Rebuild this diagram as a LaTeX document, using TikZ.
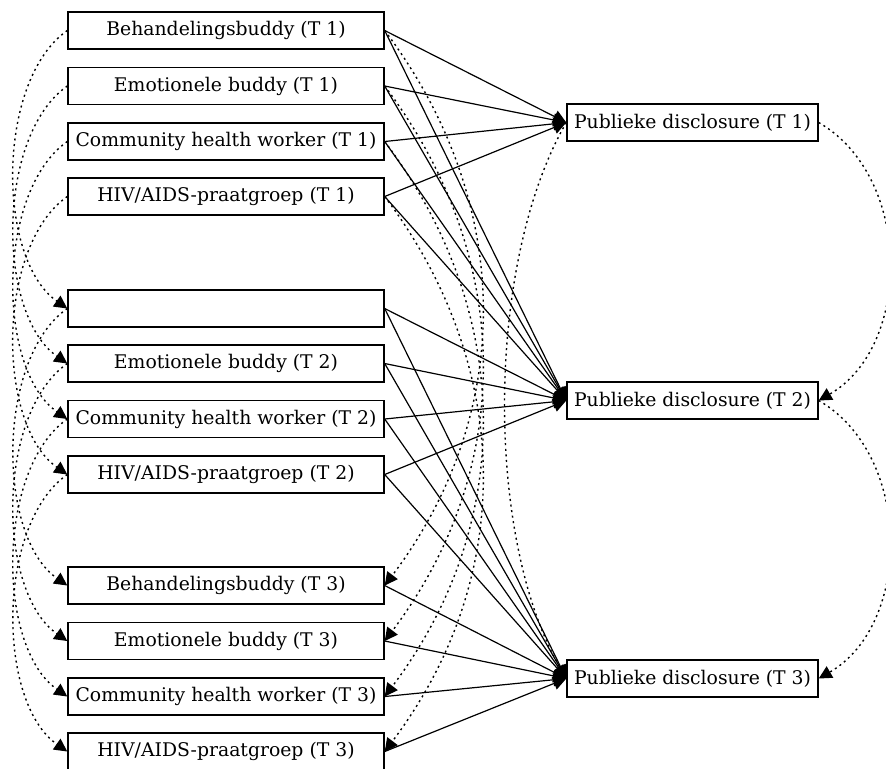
\documentclass[tikz,border=0pt]{standalone}
\usepackage{fontspec}
\setmainfont{DejaVu Serif}
\usetikzlibrary{arrows.meta}
\begin{document}
\begin{tikzpicture}[x=0.5pt,y=0.5pt,
  box/.style={draw, line width=0.7pt, minimum width=158pt, minimum height=18.5pt, inner sep=0pt,
    font=\fontsize{9.4}{11}\selectfont},
  pbox/.style={box, minimum width=125.5pt},
  tip/.style={-{Triangle[length=6.5pt,width=6.5pt]}},
  reg/.style={line width=0.6pt, tip},
  cov/.style={line width=0.7pt, dash pattern=on 1pt off 1.8pt, tip},
]
\useasboundingbox (0,0) rectangle (886,-768);
% left column
\node[box] (b1) at (226,-30.5) {Behandelingsbuddy (T 1)};
\node[box] (e1) at (226,-86) {Emotionele buddy (T 1)};
\node[box] (c1) at (226,-141.5) {Community health worker (T 1)};
\node[box] (h1) at (226,-196.5) {HIV/AIDS-praatgroep (T 1)};
\node[box] (b2) at (226,-308.5) {};
\node[box] (e2) at (226,-363.5) {Emotionele buddy (T 2)};
\node[box] (c2) at (226,-419) {Community health worker (T 2)};
\node[box] (h2) at (226,-474.5) {HIV/AIDS-praatgroep (T 2)};
\node[box] (b3) at (226,-585.5) {Behandelingsbuddy (T 3)};
\node[box] (e3) at (226,-641) {Emotionele buddy (T 3)};
\node[box] (c3) at (226,-696.5) {Community health worker (T 3)};
\node[box] (h3) at (226,-751.5) {HIV/AIDS-praatgroep (T 3)};
% right column
\node[pbox] (p1) at (692.5,-122.5) {Publieke disclosure (T 1)};
\node[pbox] (p2) at (692.5,-400.5) {Publieke disclosure (T 2)};
\node[pbox] (p3) at (692.5,-678.5) {Publieke disclosure (T 3)};
% regression paths
\foreach \s in {b1,e1,c1,h1} {
  \draw[reg] (\s.east) -- (p1.west);
  \draw[reg] (\s.east) -- (p2.west);
}
\foreach \s in {b2,e2,c2,h2} {
  \draw[reg] (\s.east) -- (p2.west);
  \draw[reg] (\s.east) -- (p3.west);
}
\foreach \s in {b3,e3,c3,h3} {
  \draw[reg] (\s.east) -- (p3.west);
}
% left autoregressive paths
\foreach \a/\b in {b1/b2,e1/e2,c1/c2,h1/h2,b2/b3,e2/e3,c2/c3,h2/h3} {
  \draw[cov] (\a.west) to[bend right=55, looseness=0.8] (\b.west);
}
% T1 -> T3 paths
\foreach \a/\b in {b1/b3,e1/e3,c1/c3,h1/h3} {
  \draw[cov] (\a.east) to[bend left=37] (\b.east);
}
\draw[cov] (p1.west) to[bend right=30, looseness=0.75] (p3.west);
\draw[cov] (p1.east) to[bend left=60] (p2.east);
\draw[cov] (p2.east) to[bend left=60] (p3.east);
\end{tikzpicture}
\end{document}
